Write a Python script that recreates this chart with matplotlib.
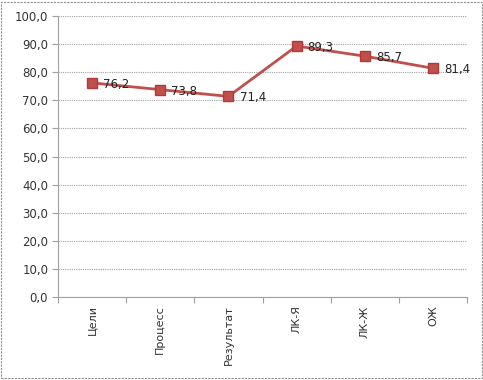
import matplotlib
matplotlib.use("Agg")
import matplotlib.pyplot as plt
from matplotlib.patches import Rectangle

categories = ["Цели", "Процесс", "Результат", "ЛК-Я", "ЛК-Ж", "ОЖ"]
values = [76.2, 73.8, 71.4, 89.3, 85.7, 81.4]
yticks = [0, 10, 20, 30, 40, 50, 60, 70, 80, 90, 100]

plt.rcParams['font.family'] = ['DejaVu Sans']

fig = plt.figure(figsize=(4.83, 3.80), dpi=100)
ax = fig.add_axes([0.120, 0.218, 0.847, 0.740])

x = list(range(len(categories)))
ax.plot(x, values, color="#C0504D", lw=2, marker="s", markersize=7,
        markerfacecolor="#C0504D", markeredgecolor="#B03A37", zorder=3)

for xi, v in zip(x, values):
    ax.annotate(f"{v:.1f}".replace(".", ","), (xi, v), xytext=(8, -1),
                textcoords="offset points", ha="left", va="center",
                fontsize=8.5, color="#222222", zorder=4)

ax.set_xlim(-0.5, len(categories) - 0.5)
ax.set_ylim(0, 100)
ax.set_yticks(yticks)
ax.set_yticklabels([f"{t:.1f}".replace(".", ",") for t in yticks],
                   fontsize=8.5, color="#333333")
ax.set_xticks([i - 0.5 for i in range(len(categories) + 1)])
ax.set_xticklabels([])
ax.set_xticks(x, minor=True)
ax.set_xticklabels(categories, minor=True, rotation=90, fontsize=8,
                   color="#333333", va="top")
ax.tick_params(axis="x", which="minor", length=0, pad=6)
ax.tick_params(axis="x", which="major", length=4, color="#a0a0a0", direction="out")
ax.tick_params(axis="y", length=4, color="#a0a0a0", pad=3)

ax.yaxis.grid(True, color="#a0a0a0", linestyle=(0, (1, 1)), lw=0.8)
ax.set_axisbelow(True)
for s in ["top", "right"]:
    ax.spines[s].set_visible(False)
ax.spines["left"].set_color("#a0a0a0")
ax.spines["bottom"].set_color("#a0a0a0")

fig.patches.append(Rectangle((0.003, 0.004), 0.994, 0.992, transform=fig.transFigure,
                             fill=False, edgecolor="#909090", lw=0.8,
                             linestyle=(0, (2, 1))))

fig.savefig("out.png", dpi=100)
